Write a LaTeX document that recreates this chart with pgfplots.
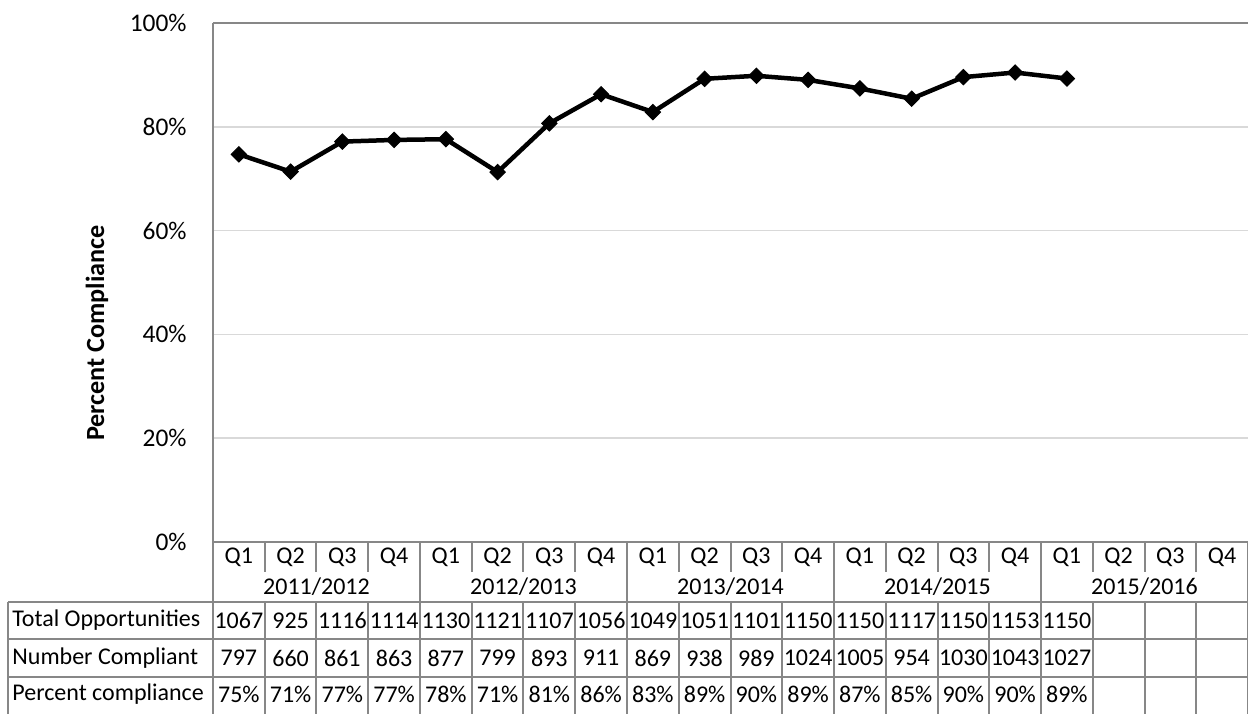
\documentclass[border=0pt]{standalone}
\usepackage{fontspec}
\setmainfont{Carlito}
\usepackage{pgfplots}
\pgfplotsset{compat=1.18}
\usepackage{pgfplotstable}
\definecolor{axgray}{HTML}{878787}
\definecolor{gridgray}{HTML}{D9D9D9}

\pgfplotstableread{
x tot comp pct pr
0 1067 797 74.70 75
1 925 660 71.35 71
2 1116 861 77.15 77
3 1114 863 77.47 77
4 1130 877 77.61 78
5 1121 799 71.28 71
6 1107 893 80.67 81
7 1056 911 86.27 86
8 1049 869 82.84 83
9 1051 938 89.25 89
10 1101 989 89.83 90
11 1150 1024 89.04 89
12 1150 1005 87.39 87
13 1117 954 85.41 85
14 1150 1030 89.57 90
15 1153 1043 90.46 90
16 1150 1027 89.30 89
}\datatab

\begin{document}
\fontsize{12}{14.4}\selectfont
\begin{tikzpicture}
\useasboundingbox (-106.5pt,-85.5pt) rectangle (517.5pt,271pt);
\begin{axis}[
  at={(0,0)}, anchor=south west,
  width=517.5pt, height=259.5pt, scale only axis,
  xmin=-0.5, xmax=19.5, ymin=0, ymax=100,
  clip=false,
  axis line style={draw=none},
  major tick length=0pt,
  ymajorgrids, grid style={gridgray, line width=0.75pt},
  ytick={0,20,40,60,80,100},
  yticklabels={0\%,20\%,40\%,60\%,80\%,100\%},
  yticklabel style={anchor=east, inner sep=0pt, xshift=-13pt, font=\fontsize{12.7}{15}\selectfont},
  xtick={0,...,19},
  xticklabels={Q1,Q2,Q3,Q4,Q1,Q2,Q3,Q4,Q1,Q2,Q3,Q4,Q1,Q2,Q3,Q4,Q1,Q2,Q3,Q4},
  xticklabel style={anchor=center, inner sep=0pt, yshift=-7.5pt, font=\fontsize{12}{14.4}\selectfont},
  /pgf/number format/assume math mode=true,
  ylabel={Percent Compliance},
  every axis y label/.style={at={(rel axis cs:-0.1121,0.4027)}, rotate=90, anchor=center, font=\fontsize{13.1}{15.5}\selectfont\bfseries},
]
% axis frame lines
\draw[axgray, line width=1pt] (axis cs:-0.5,100) -- (axis cs:19.5,100);
\draw[axgray, line width=1pt] (axis cs:-0.5,0) -- (axis cs:19.5,0);
\draw[axgray, line width=1pt] (axis cs:-0.5,100) -- (axis cs:-0.5,-33.3);
% quarter separators
\pgfplotsinvokeforeach{0.5,1.5,2.5,4.5,5.5,6.5,8.5,9.5,10.5,12.5,13.5,14.5,16.5,17.5,18.5}{
  \draw[axgray, line width=1pt] (axis cs:#1,0) -- (axis cs:#1,-5.78);
}
% year separators
\pgfplotsinvokeforeach{3.5,7.5,11.5,15.5,19.5}{
  \draw[axgray, line width=1pt] (axis cs:#1,0) -- (axis cs:#1,-11.5);
}
% table verticals
\pgfplotsinvokeforeach{0.5,1.5,2.5,3.5,4.5,5.5,6.5,7.5,8.5,9.5,10.5,11.5,12.5,13.5,14.5,15.5,16.5,17.5,18.5,19.5,-4.461}{
  \draw[axgray, line width=1pt] (axis cs:#1,-11.5) -- (axis cs:#1,-33.3);
}
% table horizontals
\pgfplotsinvokeforeach{-11.5,-18.75,-25.95}{
  \draw[axgray, line width=1pt] (axis cs:-4.461,#1) -- (axis cs:19.5,#1);
}
% year labels
\node at (axis cs:1.5,-8.65) {2011/2012};
\node at (axis cs:5.5,-8.65) {2012/2013};
\node at (axis cs:9.5,-8.65) {2013/2014};
\node at (axis cs:13.5,-8.65) {2014/2015};
\node at (axis cs:17.5,-8.65) {2015/2016};
% row labels
\node[anchor=west, inner sep=0pt] at (axis cs:-4.384,-15.13) {Total Opportunities};
\node[anchor=west, inner sep=0pt] at (axis cs:-4.384,-22.35) {Number Compliant};
\node[anchor=west, inner sep=0pt] at (axis cs:-4.384,-29.3) {Percent compliance};
% table values
\addplot[draw=none, mark=none, point meta=explicit symbolic, nodes near coords,
  nodes near coords style={anchor=center, inner sep=0pt, font=\fontsize{12}{14.4}\selectfont}]
  table[x=x, y expr=-15.13, meta=tot] {\datatab};
\addplot[draw=none, mark=none, point meta=explicit symbolic, nodes near coords,
  nodes near coords style={anchor=center, inner sep=0pt, font=\fontsize{12}{14.4}\selectfont}]
  table[x=x, y expr=-22.35, meta=comp] {\datatab};
\addplot[draw=none, mark=none, point meta=explicit symbolic, nodes near coords={\pgfplotspointmeta\%},
  nodes near coords style={anchor=center, inner sep=0pt, font=\fontsize{12}{14.4}\selectfont}]
  table[x=x, y expr=-29.3, meta=pr] {\datatab};
% data line
\addplot[black, line width=2.25pt, mark=square*, mark size=2.7pt,
  mark options={rotate=45, solid, line width=0.5pt}]
  table[x=x, y=pct] {\datatab};
\end{axis}
\end{tikzpicture}
\end{document}
